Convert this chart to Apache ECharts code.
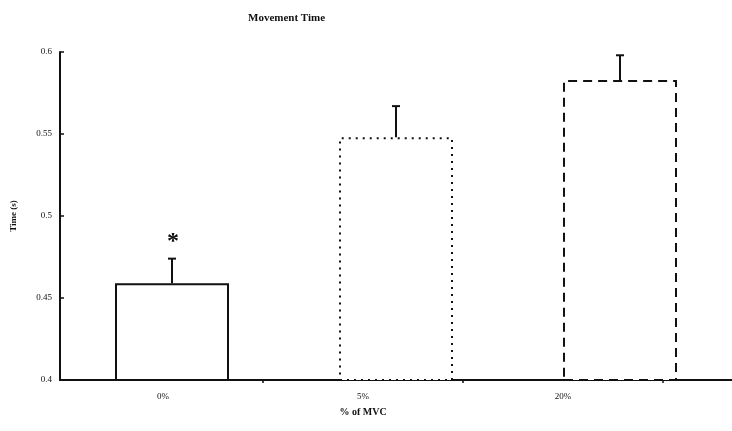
<!DOCTYPE html>
<html><head><meta charset="utf-8">
<script src="https://cdn.jsdelivr.net/npm/echarts@6/dist/echarts.min.js"></script>
<style>html,body{margin:0;padding:0;background:#fff}#c{width:732px;height:431px}</style>
</head><body><div id="c"></div>
<script>
const categories = ['0%', '5%', '20%'];
const means = [0.459, 0.548, 0.583];
const errors = [0.015, 0.019, 0.015];
const significance = ['*', '', ''];
const yTicks = { min: 0.4, max: 0.6, interval: 0.05 };

const FONT = '"Liberation Serif", "DejaVu Serif", serif';
const borderTypes = ['solid', [2, 5], [9, 6]];

const chart = echarts.init(document.getElementById('c'));
chart.setOption({
  backgroundColor: '#fff',
  animation: false,
  title: {
    text: 'Movement Time', left: 243, top: 8,
    textStyle: { fontFamily: FONT, fontSize: 11, fontWeight: 'bold', color: '#111' }
  },
  grid: [
    { left: 60, right: 0, top: 52, bottom: 51 },
    { left: 63, right: 69, top: 52, bottom: 51 }
  ],
  xAxis: [
    { type: 'category', gridIndex: 0, data: categories,
      axisLine: { lineStyle: { color: '#111', width: 2 } },
      axisTick: { show: false }, axisLabel: { show: false } },
    { type: 'category', gridIndex: 1, data: categories,
      name: '% of MVC', nameLocation: 'middle', nameGap: 27,
      nameTextStyle: { fontFamily: FONT, fontSize: 10, fontWeight: 'bold', color: '#111' },
      axisLine: { show: false },
      axisTick: { show: true, length: 3, lineStyle: { color: '#111', width: 1.5 },
        interval: function (i) { return i === 1 || i === 2; } },
      axisLabel: { fontFamily: FONT, fontSize: 9, color: '#111', margin: 12, interval: 0 } }
  ],
  yAxis: [
    { type: 'value', gridIndex: 0, min: yTicks.min, max: yTicks.max, interval: yTicks.interval,
      name: 'Time (s)', nameLocation: 'middle', nameGap: 42,
      nameTextStyle: { fontFamily: FONT, fontSize: 9, fontWeight: 'bold', color: '#111' },
      axisLine: { show: true, lineStyle: { color: '#111', width: 2 } },
      axisTick: { show: true, inside: true, length: 4, lineStyle: { color: '#111', width: 1.5 } },
      splitLine: { show: false },
      axisLabel: { fontFamily: FONT, fontSize: 9, color: '#111', margin: 8,
        formatter: function (v) { return String(+v.toFixed(2)); } } },
    { type: 'value', gridIndex: 1, min: yTicks.min, max: yTicks.max, show: false }
  ],
  series: [
    { type: 'bar', xAxisIndex: 0, yAxisIndex: 0, barWidth: 114, z: 2,
      data: means.map(function (v, i) {
        return { value: v, itemStyle: { color: '#fff', borderColor: '#111', borderWidth: 2, borderType: borderTypes[i] } };
      }) },
    { type: 'custom', xAxisIndex: 0, yAxisIndex: 0, z: 5,
      data: means.map(function (v, i) { return [i, v, v + errors[i]]; }),
      renderItem: function (params, api) {
        const i = api.value(0);
        const p0 = api.coord([i, api.value(1)]);
        const p1 = api.coord([i, api.value(2)]);
        const cap = 4;
        const children = [
          { type: 'line', shape: { x1: p0[0], y1: p0[1], x2: p1[0], y2: p1[1] }, style: { stroke: '#111', lineWidth: 2 } },
          { type: 'line', shape: { x1: p1[0] - cap, y1: p1[1], x2: p1[0] + cap, y2: p1[1] }, style: { stroke: '#111', lineWidth: 2 } }
        ];
        const s = significance[params.dataIndex];
        if (s) {
          children.push({ type: 'text', style: { text: s, x: p1[0] + 1, y: p1[1] - 17, align: 'center', verticalAlign: 'middle',
            font: 'bold 24px ' + FONT, fill: '#111' } });
        }
        return { type: 'group', children: children };
      } }
  ]
});
</script></body></html>
